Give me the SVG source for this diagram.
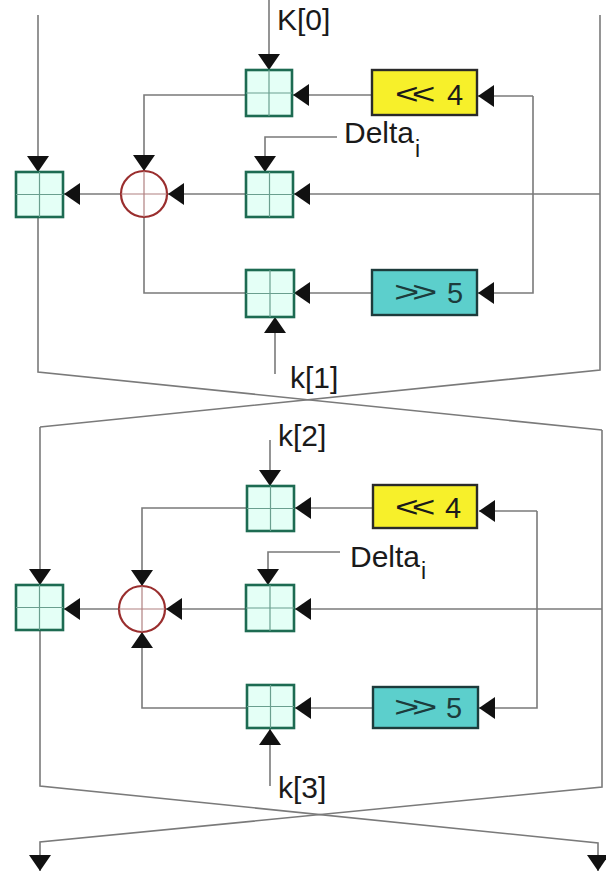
<svg xmlns="http://www.w3.org/2000/svg" width="606" height="871" viewBox="0 0 606 871">
<style>
.ln{fill:none;stroke:#7a7a7a;stroke-width:1.6}
.arr{fill:none;stroke:#7a7a7a;stroke-width:1.6;marker-end:url(#ah)}
.add{fill:#e4fff6;stroke:#1d6b52;stroke-width:2.6}
.cr{stroke:#6a9f8f;stroke-width:1.2}
.xor{fill:#fff;stroke:#9a2e2e;stroke-width:2.2}
.xcr{stroke:#b08080;stroke-width:1.2}
.shl{fill:#f7f02a;stroke:#2a2a2a;stroke-width:2.4}
.shr{fill:#5ccfcc;stroke:#1d3b3b;stroke-width:2.4}
.t{font-family:"Liberation Sans",Arial,sans-serif;font-size:30px;fill:#1a1a1a}
.op{font-family:"Liberation Sans",Arial,sans-serif;font-size:29px}
.ch{letter-spacing:-5px}
.yl{fill:#1a1a1a}
.cy{fill:#1c3c3c}
</style>
<defs>
<marker id="ah" markerUnits="userSpaceOnUse" markerWidth="16" markerHeight="22" refX="16" refY="11" orient="auto">
<path d="M0,0 L16,11 L0,22 z" fill="#111"/>
</marker>
</defs>

<g id="connectors">
<!-- round 1 -->
<line class="arr" x1="38" y1="15" x2="38" y2="172"/>
<line class="arr" x1="269" y1="0" x2="269" y2="70"/>
<line class="arr" x1="372" y1="95" x2="293" y2="95"/>
<polyline class="arr" points="533,96 533,96 478,96"/>
<polyline class="arr" points="533,96 533,293 478,293"/>
<polyline class="arr" points="246,95 144,95 144,171"/>
<polyline class="arr" points="337,137 265,137 265,172"/>
<line class="arr" x1="600" y1="194" x2="294" y2="194"/>
<line class="arr" x1="246" y1="194" x2="168" y2="194"/>
<line class="arr" x1="121" y1="194" x2="64" y2="194"/>
<polyline class="ln" points="144,217 144,293 246,293"/>
<line class="arr" x1="372" y1="293" x2="294" y2="293"/>
<line class="arr" x1="275" y1="374" x2="275" y2="317"/>
<line class="ln" x1="600" y1="15" x2="600" y2="194"/>
<polyline class="ln" points="600,194 600,370 40,427"/>
<polyline class="ln" points="38,217 38,372 602,430"/>
<!-- round 2 -->
<line class="arr" x1="40" y1="427" x2="40" y2="585"/>
<line class="arr" x1="270" y1="440" x2="270" y2="486"/>
<line class="arr" x1="373" y1="508" x2="295" y2="508"/>
<polyline class="arr" points="537,511 537,511 479,511"/>
<polyline class="arr" points="537,511 537,708 479,708"/>
<polyline class="arr" points="247,508 142,508 142,586"/>
<polyline class="arr" points="340,552 268,552 268,585"/>
<line class="ln" x1="602" y1="430" x2="602" y2="609"/>
<line class="arr" x1="602" y1="609" x2="295" y2="609"/>
<line class="arr" x1="247" y1="609" x2="166" y2="609"/>
<line class="arr" x1="119" y1="609" x2="64" y2="609"/>
<polyline class="arr" points="247,708 142,708 142,632"/>
<line class="arr" x1="373" y1="708" x2="295" y2="708"/>
<line class="arr" x1="270" y1="786" x2="270" y2="729"/>
<polyline class="arr" points="40,630 40,786 598,843 598,871"/>
<polyline class="arr" points="602,609 602,787 40,842 40,871"/>
</g>

<!-- round 1 nodes -->
<g id="add-k0">
<rect class="add" x="246" y="70" width="46" height="46"/>
<line class="cr" x1="269" y1="70" x2="269" y2="116"/><line class="cr" x1="246" y1="93" x2="292" y2="93"/>
</g>
<g id="shl-1">
<rect class="shl" x="372" y="70" width="105" height="45"/>
<text class="op yl ch" transform="translate(395,104) scale(1.4,1)">&lt;&lt;</text>
<text class="op yl" x="447" y="105">4</text>
</g>
<g id="add-delta-1">
<rect class="add" x="246" y="172" width="47" height="45"/>
<line class="cr" x1="269.5" y1="172" x2="269.5" y2="217"/><line class="cr" x1="246" y1="194.5" x2="293" y2="194.5"/>
</g>
<g id="xor-1">
<circle class="xor" cx="144" cy="194" r="23"/>
<line class="xcr" x1="144" y1="171" x2="144" y2="217"/><line class="xcr" x1="121" y1="194" x2="167" y2="194"/>
</g>
<g id="add-left-1">
<rect class="add" x="16" y="172" width="47" height="45"/>
<line class="cr" x1="39.5" y1="172" x2="39.5" y2="217"/><line class="cr" x1="16" y1="194.5" x2="63" y2="194.5"/>
</g>
<g id="add-k1">
<rect class="add" x="246" y="270" width="48" height="47"/>
<line class="cr" x1="270" y1="270" x2="270" y2="317"/><line class="cr" x1="246" y1="293.5" x2="294" y2="293.5"/>
</g>
<g id="shr-1">
<rect class="shr" x="372" y="270" width="105" height="45"/>
<text class="op cy ch" transform="translate(394,302) scale(1.5,1)">&gt;&gt;</text>
<text class="op cy" x="447" y="303">5</text>
</g>
<g id="labels-1">
<text class="t" x="277" y="30">K[0]</text>
<text class="t" x="344" y="143" font-size="29">Delta<tspan font-size="23" dx="1" dy="14">i</tspan></text>
<text class="t" x="290" y="388">k[1]</text>
</g>

<!-- round 2 nodes -->
<g id="add-k2">
<rect class="add" x="247" y="486" width="47" height="45"/>
<line class="cr" x1="270.5" y1="486" x2="270.5" y2="531"/><line class="cr" x1="247" y1="508.5" x2="294" y2="508.5"/>
</g>
<g id="shl-2">
<rect class="shl" x="373" y="485" width="104" height="43"/>
<text class="op yl ch" transform="translate(395,517) scale(1.4,1)">&lt;&lt;</text>
<text class="op yl" x="445" y="518">4</text>
</g>
<g id="add-delta-2">
<rect class="add" x="246" y="585" width="48" height="46"/>
<line class="cr" x1="270" y1="585" x2="270" y2="631"/><line class="cr" x1="246" y1="608" x2="294" y2="608"/>
</g>
<g id="xor-2">
<circle class="xor" cx="142" cy="609" r="23"/>
<line class="xcr" x1="142" y1="586" x2="142" y2="632"/><line class="xcr" x1="119" y1="609" x2="165" y2="609"/>
</g>
<g id="add-left-2">
<rect class="add" x="16" y="585" width="47" height="45"/>
<line class="cr" x1="39.5" y1="585" x2="39.5" y2="630"/><line class="cr" x1="16" y1="607.5" x2="63" y2="607.5"/>
</g>
<g id="add-k3">
<rect class="add" x="247" y="685" width="47" height="43"/>
<line class="cr" x1="270.5" y1="685" x2="270.5" y2="728"/><line class="cr" x1="247" y1="706.5" x2="294" y2="706.5"/>
</g>
<g id="shr-2">
<rect class="shr" x="373" y="687" width="105" height="41"/>
<text class="op cy ch" transform="translate(394,717) scale(1.5,1)">&gt;&gt;</text>
<text class="op cy" x="446" y="718">5</text>
</g>
<g id="labels-2">
<text class="t" x="278" y="446">k[2]</text>
<text class="t" x="350" y="567" font-size="29">Delta<tspan font-size="23" dx="1" dy="12">i</tspan></text>
<text class="t" x="278" y="798">k[3]</text>
</g>
</svg>
